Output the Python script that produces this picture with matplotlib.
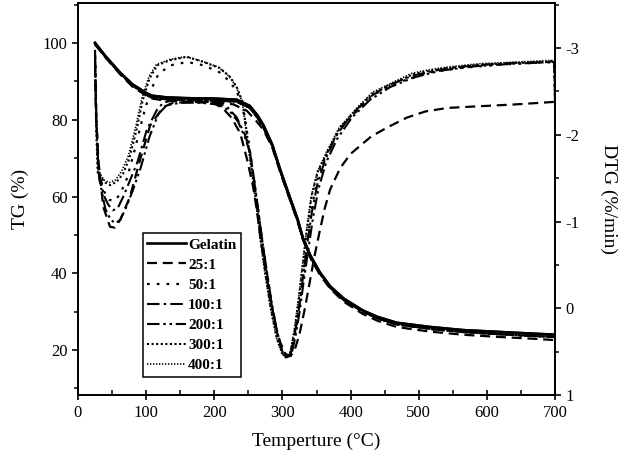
import matplotlib
matplotlib.use("Agg")
import matplotlib.pyplot as plt
from matplotlib.ticker import MultipleLocator

plt.rcParams['font.family'] = ['Liberation Serif', 'DejaVu Serif']
plt.rcParams['axes.unicode_minus'] = False

# ---------------- data ----------------
labels = ["Gelatin", "25:1", "50:1", "100:1", "200:1", "300:1", "400:1"]

# TG curves (left axis, %)
tg_gel_x = [25, 40, 62, 80, 106, 130, 160, 200, 233, 252, 263, 272, 285, 297, 310, 322, 330, 341, 355, 370,
            390, 418, 440, 468, 517, 565, 620, 664, 700]
tg_gel_y = [100, 96.6, 92.2, 89.2, 86.3, 85.8, 85.6, 85.5, 85.2, 83.6, 81.2, 78.6, 73.5, 66.8, 60.2, 54.2,
            49.2, 44.6, 40.2, 36.6, 33.4, 30.3, 28.6, 27.1, 26.0, 25.2, 24.7, 24.3, 24.0]
tg_25_x = [25, 40, 62, 80, 106, 130, 160, 200, 228, 248, 260, 272, 285, 297, 310, 322, 330, 341, 355, 370,
           390, 418, 440, 468, 517, 565, 620, 664, 700]
tg_25_y = [99.6, 96.3, 91.8, 88.6, 85.6, 84.9, 84.7, 84.6, 84.0, 82.3, 80.0, 77.4, 72.8, 66.2, 59.6, 53.6,
           48.8, 44.0, 39.6, 36.0, 32.6, 29.4, 27.6, 26.0, 24.8, 24.0, 23.4, 23.0, 22.6]
tg_oth_x = [25, 40, 62, 80, 106, 130, 160, 200, 233, 252, 263, 272, 285, 297, 310, 322, 330, 341, 355, 370,
            390, 418, 440, 468, 517, 565, 620, 664, 700]
tg_oth_y = [99.8, 96.4, 92.0, 88.9, 85.9, 85.3, 85.1, 85.0, 84.7, 83.1, 80.6, 78.0, 73.2, 66.5, 59.9, 53.9,
            49.0, 44.3, 40.0, 36.3, 33.0, 30.0, 28.2, 26.7, 25.5, 24.7, 24.1, 23.7, 23.4]

# DTG curves (right axis, %/min)
dtg_25_x = [25, 26, 30, 37, 47, 54, 62, 76, 91, 106, 125, 140, 170, 200, 212, 225, 238, 248, 257, 263, 268,
            275, 282, 290, 297, 305, 312, 318, 325, 333, 340, 347, 355, 362, 370, 385, 400, 430, 455, 483,
            510, 542, 590, 640, 680, 699, 700]
dtg_25_y = [-2.98, -2.3, -1.7, -1.17, -0.94, -0.93, -1.02, -1.28, -1.71, -2.11, -2.32, -2.37, -2.38, -2.36,
            -2.31, -2.2, -2.02, -1.72, -1.4, -1.1, -0.8, -0.45, -0.12, 0.2, 0.4, 0.53, 0.55, 0.48, 0.3, 0.0,
            -0.3, -0.6, -0.9, -1.15, -1.37, -1.62, -1.78, -1.98, -2.09, -2.2, -2.27, -2.31, -2.33, -2.35,
            -2.37, -2.38, -2.33]
dtg_50_x = [25, 27, 30, 38, 46, 54, 62, 72, 84, 95, 106, 118, 135, 160, 185, 208, 222, 233, 242, 250, 257,
            264, 270, 277, 285, 293, 300, 307, 313, 319, 325, 331, 337, 344, 353, 366, 385, 410, 433, 468,
            517, 560, 620, 670, 699, 700]
dtg_50_y = [-2.92, -2.2, -1.6, -1.35, -1.25, -1.24, -1.32, -1.5, -1.85, -2.2, -2.5, -2.7, -2.8, -2.84, -2.8,
            -2.72, -2.62, -2.5, -2.3, -1.95, -1.55, -1.15, -0.78, -0.4, -0.02, 0.3, 0.48, 0.56, 0.5, 0.28,
            -0.02, -0.4, -0.8, -1.2, -1.55, -1.8, -2.08, -2.28, -2.46, -2.6, -2.72, -2.77, -2.81, -2.83,
            -2.84, -2.4]
dtg_100_x = [25, 27, 30, 38, 44, 51, 58, 66, 75, 87, 101, 116, 125, 140, 170, 200, 219, 233, 245, 252, 258,
             264, 270, 277, 284, 292, 299, 306, 312, 318, 324, 330, 336, 343, 351, 362, 378, 400, 425, 455,
             490, 530, 580, 640, 699, 700]
dtg_100_y = [-2.9, -2.2, -1.6, -1.3, -1.2, -1.13, -1.15, -1.28, -1.45, -1.68, -2.06, -2.29, -2.37, -2.4,
             -2.4, -2.38, -2.32, -2.2, -2.0, -1.82, -1.5, -1.15, -0.8, -0.42, -0.05, 0.28, 0.48, 0.57, 0.52,
             0.3, 0.02, -0.35, -0.72, -1.1, -1.42, -1.7, -1.98, -2.22, -2.42, -2.57, -2.68, -2.75, -2.8,
             -2.83, -2.84, -2.45]
dtg_200_x = [25, 27, 31, 40, 48, 55, 62, 70, 80, 92, 105, 118, 130, 150, 180, 205, 222, 235, 246, 253, 259,
             265, 271, 278, 285, 293, 300, 307, 313, 319, 325, 331, 338, 345, 353, 364, 380, 402, 428, 458,
             492, 532, 582, 640, 699, 700]
dtg_200_y = [-2.9, -2.1, -1.5, -1.15, -1.02, -0.98, -1.02, -1.15, -1.35, -1.62, -1.98, -2.24, -2.34, -2.37,
             -2.37, -2.35, -2.28, -2.15, -1.95, -1.78, -1.45, -1.1, -0.75, -0.38, -0.02, 0.3, 0.5, 0.58, 0.54,
             0.33, 0.05, -0.3, -0.68, -1.05, -1.38, -1.68, -1.95, -2.2, -2.4, -2.55, -2.66, -2.74, -2.79,
             -2.82, -2.84, -2.4]
dtg_300_x = [25, 27, 29, 40, 47, 57, 66, 75, 86, 95, 105, 116, 135, 160, 184, 208, 223, 233, 242, 248, 255,
             262, 268, 275, 283, 292, 300, 307, 312, 318, 324, 330, 336, 343, 352, 366, 385, 410, 433, 468,
             492, 517, 542, 590, 649, 699, 700]
dtg_300_y = [-2.9, -2.0, -1.55, -1.45, -1.42, -1.46, -1.55, -1.72, -2.06, -2.4, -2.65, -2.8, -2.86, -2.9,
             -2.84, -2.77, -2.67, -2.55, -2.37, -2.0, -1.6, -1.2, -0.8, -0.4, 0.0, 0.35, 0.52, 0.58, 0.5,
             0.25, -0.1, -0.5, -0.9, -1.3, -1.58, -1.8, -2.09, -2.29, -2.48, -2.61, -2.7, -2.74, -2.77,
             -2.81, -2.83, -2.85, -2.35]
dtg_400_x = [25, 27, 29, 38, 46, 55, 64, 74, 85, 94, 104, 115, 135, 158, 182, 206, 221, 232, 241, 247, 254,
             261, 267, 274, 282, 291, 299, 306, 311, 317, 323, 329, 335, 342, 351, 364, 383, 408, 432, 466,
             490, 515, 540, 588, 647, 699, 700]
dtg_400_y = [-2.88, -2.05, -1.6, -1.48, -1.45, -1.48, -1.58, -1.76, -2.1, -2.43, -2.67, -2.81, -2.87, -2.9,
             -2.85, -2.78, -2.68, -2.56, -2.38, -2.02, -1.62, -1.22, -0.82, -0.42, -0.02, 0.34, 0.52, 0.58,
             0.52, 0.27, -0.08, -0.48, -0.88, -1.28, -1.57, -1.79, -2.08, -2.3, -2.49, -2.62, -2.71, -2.75,
             -2.78, -2.82, -2.84, -2.86, -2.36]

# ---------------- styles ----------------
styles = {
    "Gelatin": dict(ls="-", lw=1.9),
    "25:1": dict(ls=(0, (4.5, 2.6)), lw=1.6),
    "50:1": dict(ls=(0, (1.2, 3.2)), lw=1.6),
    "100:1": dict(ls=(0, (6, 2, 1.2, 2)), lw=1.5),
    "200:1": dict(ls=(0, (6, 1.8, 1.2, 1.8, 1.2, 1.8)), lw=1.5),
    "300:1": dict(ls=(0, (1, 1.2)), lw=1.5),
    "400:1": dict(ls=(0, (0.8, 1.0)), lw=1.2),
}

fig = plt.figure(figsize=(6.28, 4.62), dpi=100)
ax = fig.add_axes([0.1242, 0.145, 0.7596, 0.8485])
ax2 = ax.twinx()

handles = []
h, = ax.plot(tg_gel_x, tg_gel_y, color="black", label="Gelatin", **styles["Gelatin"])
handles.append(h)
h, = ax.plot(tg_25_x, tg_25_y, color="black", label="25:1", **styles["25:1"])
handles.append(h)
for lab in ["50:1", "100:1", "200:1", "300:1", "400:1"]:
    h, = ax.plot(tg_oth_x, tg_oth_y, color="black", label=lab, **styles[lab])
    handles.append(h)
# redraw gelatin on top so it dominates like in the reference
ax.plot(tg_gel_x, tg_gel_y, color="black", **styles["Gelatin"])

dtg = {
    "25:1": (dtg_25_x, dtg_25_y),
    "50:1": (dtg_50_x, dtg_50_y),
    "100:1": (dtg_100_x, dtg_100_y),
    "200:1": (dtg_200_x, dtg_200_y),
    "300:1": (dtg_300_x, dtg_300_y),
    "400:1": (dtg_400_x, dtg_400_y),
}
for lab, (xx, yy) in dtg.items():
    ax2.plot(xx, yy, color="black", **styles[lab])

ax.set_xlim(0, 700)
ax.set_ylim(8.3, 110.4)
ax2.set_ylim(1, -3.52)

ax.xaxis.set_major_locator(MultipleLocator(100))
ax.xaxis.set_minor_locator(MultipleLocator(50))
ax.yaxis.set_major_locator(MultipleLocator(20))
ax.yaxis.set_minor_locator(MultipleLocator(10))
ax2.yaxis.set_major_locator(MultipleLocator(1))
ax2.yaxis.set_minor_locator(MultipleLocator(0.5))

for a in (ax, ax2):
    for s in a.spines.values():
        s.set_linewidth(1.3)

ax.tick_params(axis="x", which="major", direction="inout", length=7, width=1.2, labelsize=12, pad=4)
ax.tick_params(axis="x", which="minor", direction="in", length=3.5, width=1.1)
ax.tick_params(axis="y", which="major", direction="out", length=4, width=1.2, labelsize=12)
ax.tick_params(axis="y", which="minor", direction="out", length=3, width=1.1)
ax2.tick_params(axis="y", which="major", direction="out", length=4, width=1.2, labelsize=12)
ax2.tick_params(axis="y", which="minor", direction="out", length=3, width=1.1)

ax.set_xlabel("Temperture (°C)", fontsize=14, labelpad=8)
ax.set_ylabel("TG (%)", fontsize=14, labelpad=10)
ax2.set_ylabel("DTG (%/min)", fontsize=14, labelpad=15, rotation=270, va="bottom")

leg = ax2.legend(handles=handles, labels=labels, loc="lower left", bbox_to_anchor=(0.136, 0.046),
                 borderaxespad=0, fancybox=False, framealpha=1, edgecolor="black",
                 prop=dict(family="Liberation Serif", weight="bold", size=11),
                 handlelength=2.5, handletextpad=0.15, labelspacing=0.42, borderpad=0.3)
leg.get_frame().set_linewidth(1.1)

fig.savefig("out.png", dpi=100)
